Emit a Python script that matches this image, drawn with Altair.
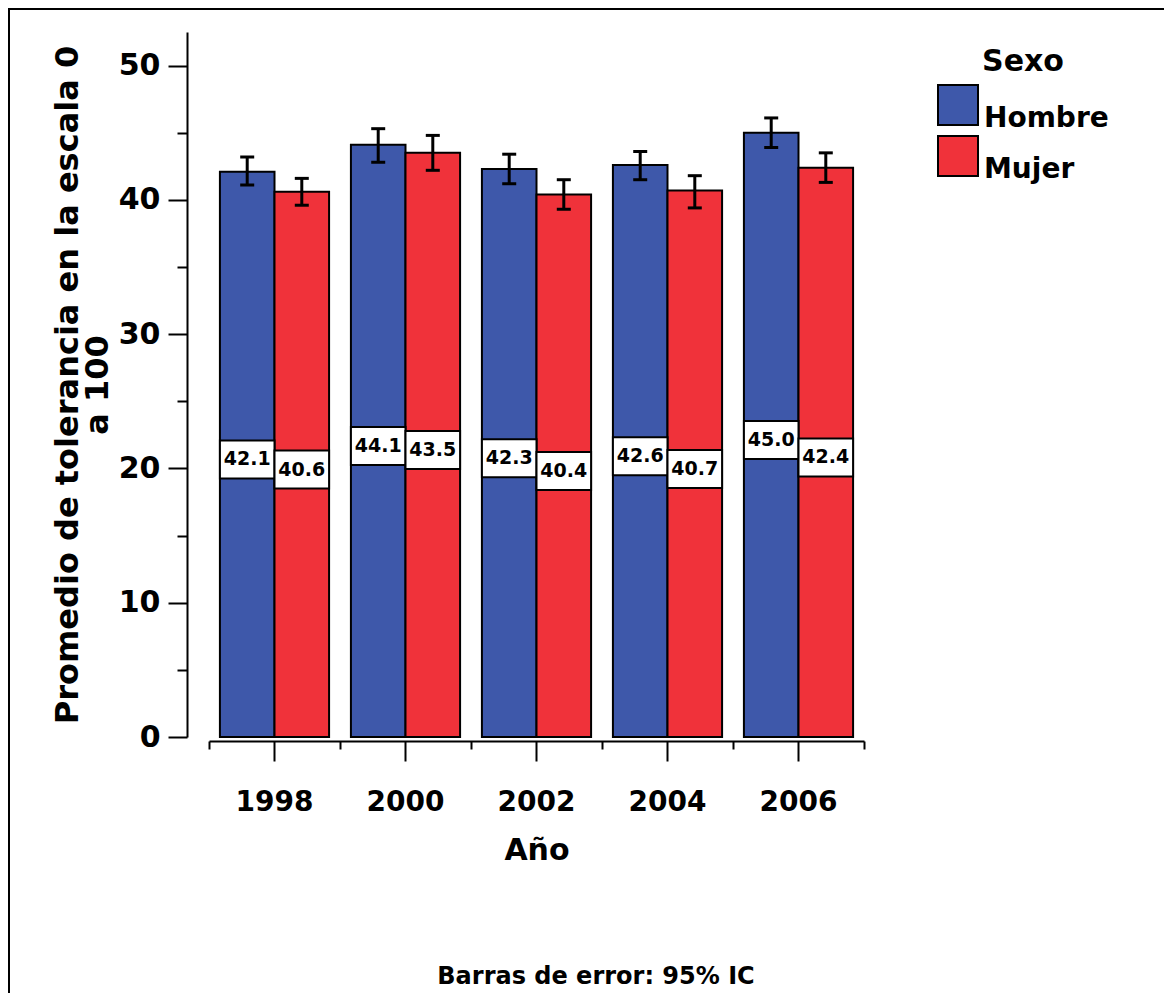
import altair as alt
import pandas as pd

years = ["1998", "2000", "2002", "2004", "2006"]
sexes = ["Hombre", "Mujer"]
colors = ["#3E58AA", "#F0323A"]
hombre = [42.1, 44.1, 42.3, 42.6, 45.0]
mujer = [40.6, 43.5, 40.4, 40.7, 42.4]
hombre_lo = [41.1, 42.8, 41.2, 41.5, 43.9]
hombre_hi = [43.2, 45.3, 43.4, 43.6, 46.1]
mujer_lo = [39.6, 42.2, 39.3, 39.4, 41.3]
mujer_hi = [41.6, 44.8, 41.5, 41.8, 43.5]
y_title = ["Promedio de tolerancia en la escala 0", "a 100"]
x_title = "Año"
note = "Barras de error: 95% IC"

rows = []
for i, yr in enumerate(years):
    rows.append({"year": yr, "sexo": "Hombre", "value": hombre[i], "lo": hombre_lo[i], "hi": hombre_hi[i]})
    rows.append({"year": yr, "sexo": "Mujer", "value": mujer[i], "lo": mujer_lo[i], "hi": mujer_hi[i]})
df = pd.DataFrame(rows)

FONT = "DejaVu Sans"
xscale = alt.Scale(domain=years, paddingInner=0, paddingOuter=0)
yscale = alt.Scale(domain=[0, 52.5], nice=False, zero=True)
offscale = alt.Scale(domain=sexes, paddingInner=0, paddingOuter=0.2)

x_main_axis = alt.Axis(
    title=x_title, orient="bottom", labelAngle=0, offset=4, grid=False,
    tickSize=20, tickWidth=2, tickColor="black",
    domainWidth=2, domainColor="black",
    labelFont=FONT, labelFontSize=28, labelFontWeight="bold", labelColor="black",
    labelPadding=27,
    titleFont=FONT, titleFontSize=30, titleFontWeight="bold", titleColor="black",
    titlePadding=19,
)
x_minor_axis = alt.Axis(
    title=None, orient="bottom", offset=4, tickBand="extent", grid=False,
    tickSize=8, tickWidth=2, tickColor="black", labels=False, domain=False,
)
y_axis = alt.Axis(
    title=y_title, offset=22, grid=False,
    values=[0, 5, 10, 15, 20, 25, 30, 35, 40, 45, 50],
    tickSize={"condition": {"test": "datum.value % 10 === 0", "value": 19}, "value": 10},
    tickWidth=2, tickColor="black", domainWidth=2, domainColor="black",
    labelExpr="datum.value % 10 === 0 ? datum.label : ''",
    labelFont=FONT, labelFontSize=30, labelFontWeight="bold", labelColor="black",
    labelPadding=8,
    titleFont=FONT, titleFontSize=32, titleFontWeight="bold", titleColor="black",
    titleLineHeight=30, titlePadding=4,
)

base = alt.Chart(df)
xoff = alt.XOffset("sexo:N", scale=offscale)

bars = base.mark_bar(stroke="black", strokeWidth=2).encode(
    x=alt.X("year:N", scale=xscale, axis=x_main_axis),
    xOffset=xoff,
    y=alt.Y("value:Q", scale=yscale, axis=y_axis),
    color=alt.Color(
        "sexo:N",
        scale=alt.Scale(domain=sexes, range=colors),
        legend=alt.Legend(
            title="Sexo", orient="none", legendX=728, legendY=15,
            symbolType="square", symbolSize=1600, symbolStrokeColor="black",
            symbolStrokeWidth=2, symbolOpacity=1,
            labelFont=FONT, labelFontSize=28, labelFontWeight="bold", labelColor="black",
            labelOffset=5, rowPadding=-1, labelBaseline="top",
            titleFont=FONT, titleFontSize=30, titleFontWeight="bold", titleColor="black",
            titleAnchor="middle", titlePadding=7,
        ),
    ),
)

err = base.mark_rule(strokeWidth=3, color="black").encode(
    x=alt.X("year:N", scale=xscale, axis=x_minor_axis),
    xOffset=xoff,
    y=alt.Y("lo:Q", scale=yscale),
    y2="hi:Q",
)
cap_lo = base.mark_tick(size=14, thickness=3, color="black", opacity=1).encode(
    x=alt.X("year:N", scale=xscale, axis=None),
    xOffset=xoff,
    y=alt.Y("lo:Q", scale=yscale),
)
cap_hi = base.mark_tick(size=14, thickness=3, color="black", opacity=1).encode(
    x=alt.X("year:N", scale=xscale, axis=None),
    xOffset=xoff,
    y=alt.Y("hi:Q", scale=yscale),
)

boxes = base.transform_calculate(
    b0="datum.value / 2 - 1.8", b1="datum.value / 2 + 1.03"
).mark_rect(fill="white", stroke="black", strokeWidth=2).encode(
    x=alt.X("year:N", scale=xscale, axis=None),
    xOffset=xoff,
    y=alt.Y("b0:Q", scale=yscale),
    y2="b1:Q",
)
labels = base.transform_calculate(
    mid="datum.value / 2 - 0.38"
).mark_text(font=FONT, fontSize=19, fontWeight="bold", color="black", baseline="middle").encode(
    x=alt.X("year:N", scale=xscale, axis=None),
    xOffset=xoff,
    y=alt.Y("mid:Q", scale=yscale),
    text=alt.Text("value:Q", format=".1f"),
)

note_layer = alt.Chart(pd.DataFrame({"t": [note]})).mark_text(
    font=FONT, fontSize=24, fontWeight="bold", color="black", baseline="middle", align="center"
).encode(x=alt.value(387), y=alt.value(945), text="t:N")

frame = alt.Chart(pd.DataFrame({"a": [0]})).mark_rect(
    fillOpacity=0, stroke="black", strokeWidth=2
).encode(x=alt.value(-200), x2=alt.value(1400), y=alt.value(-23), y2=alt.value(1300))

chart = alt.layer(
    frame, bars, err, cap_lo, cap_hi, boxes, labels, note_layer
).resolve_axis(x="independent").properties(
    width=655, height=705,
    autosize=alt.AutoSizeParams(type="none"),
    padding={"left": 201, "top": 24, "right": 300, "bottom": 256},
    background="white",
).configure_view(stroke=None)

chart.save("out.html", embed_options={"renderer": "svg", "actions": False})
